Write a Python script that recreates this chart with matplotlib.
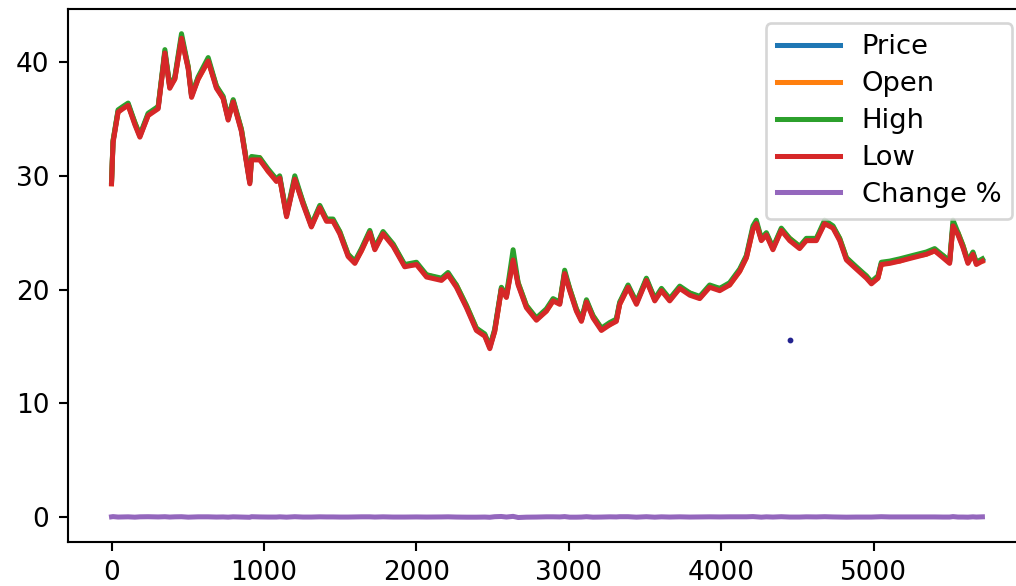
import matplotlib
matplotlib.use("Agg")
import matplotlib.pyplot as plt

# row index of each sampled point
idx = [0, 10, 43, 75, 109, 153, 186, 240, 306, 350,
       382, 415, 459, 503, 525, 568, 634, 688, 732, 765,
       798, 852, 907, 918, 972, 1027, 1082, 1103, 1148, 1202,
       1256, 1311, 1366, 1410, 1453, 1497, 1552, 1596, 1639, 1694,
       1727, 1781, 1847, 1923, 2000, 2066, 2164, 2207, 2262, 2328,
       2393, 2448, 2481, 2513, 2557, 2590, 2634, 2667, 2721, 2787,
       2852, 2896, 2940, 2972, 3005, 3049, 3082, 3115, 3158, 3213,
       3268, 3311, 3333, 3388, 3443, 3508, 3563, 3607, 3661, 3727,
       3793, 3858, 3923, 3989, 4054, 4120, 4164, 4207, 4229, 4262,
       4295, 4338, 4393, 4448, 4513, 4557, 4623, 4677, 4732, 4776,
       4820, 4885, 4951, 4984, 5027, 5049, 5104, 5170, 5256, 5344,
       5399, 5453, 5497, 5519, 5552, 5584, 5617, 5650, 5672, 5712]

price = [29.4, 33.0, 35.7, 36.0, 36.3, 34.6, 33.5, 35.4, 36.0, 40.9,
         37.8, 38.6, 42.2, 39.5, 37.0, 38.6, 40.2, 37.8, 36.9, 35.0,
         36.6, 34.0, 29.4, 31.5, 31.5, 30.5, 29.6, 29.9, 26.5, 29.8,
         27.6, 25.6, 27.3, 26.1, 26.1, 25.0, 23.0, 22.4, 23.5, 25.1,
         23.6, 25.0, 23.9, 22.1, 22.3, 21.2, 20.9, 21.4, 20.3, 18.5,
         16.5, 16.0, 14.9, 16.4, 20.1, 19.4, 22.8, 20.5, 18.5, 17.4,
         18.2, 19.1, 18.8, 21.5, 20.0, 18.2, 17.3, 19.0, 17.6, 16.5,
         17.0, 17.3, 18.8, 20.3, 18.8, 20.9, 19.1, 20.0, 19.1, 20.2,
         19.6, 19.3, 20.3, 20.0, 20.5, 21.7, 22.9, 25.4, 25.9, 24.4,
         24.9, 23.6, 25.3, 24.4, 23.7, 24.4, 24.4, 25.9, 25.5, 24.4,
         22.7, 21.9, 21.1, 20.6, 21.1, 22.3, 22.4, 22.6, 22.9, 23.2,
         23.5, 22.9, 22.4, 25.7, 24.9, 23.8, 22.4, 23.2, 22.3, 22.6]

open_ = [29.3, 33.1, 35.6, 36.0, 36.2, 34.7, 33.5, 35.3, 36.1, 40.8,
         37.9, 38.5, 42.1, 39.6, 37.1, 38.5, 40.1, 37.9, 36.8, 35.1,
         36.5, 34.1, 29.5, 31.4, 31.6, 30.4, 29.7, 29.8, 26.6, 29.7,
         27.7, 25.6, 27.2, 26.2, 26.0, 25.1, 23.1, 22.4, 23.4, 25.0,
         23.7, 24.9, 24.0, 22.1, 22.2, 21.3, 20.9, 21.3, 20.4, 18.6,
         16.6, 16.0, 15.0, 16.3, 20.0, 19.5, 22.6, 20.6, 18.6, 17.4,
         18.1, 19.0, 18.9, 21.4, 20.1, 18.3, 17.3, 18.9, 17.7, 16.6,
         16.9, 17.3, 18.7, 20.2, 18.9, 20.8, 19.2, 19.9, 19.2, 20.1,
         19.7, 19.3, 20.2, 20.1, 20.4, 21.6, 22.8, 25.3, 25.8, 24.5,
         24.8, 23.7, 25.2, 24.5, 23.8, 24.3, 24.5, 25.8, 25.5, 24.5,
         22.8, 21.9, 21.2, 20.6, 21.0, 22.2, 22.4, 22.5, 22.9, 23.1,
         23.4, 23.0, 22.5, 25.5, 25.0, 23.9, 22.5, 23.1, 22.4, 22.5]

high = [29.5, 33.1, 35.8, 36.1, 36.4, 34.7, 33.6, 35.5, 36.1, 41.1,
        37.9, 38.7, 42.5, 39.6, 37.1, 38.7, 40.4, 37.9, 37.0, 35.1,
        36.7, 34.1, 29.5, 31.7, 31.6, 30.6, 29.7, 30.0, 26.6, 30.0,
        27.7, 25.7, 27.4, 26.2, 26.2, 25.1, 23.1, 22.5, 23.6, 25.2,
        23.7, 25.1, 24.0, 22.2, 22.4, 21.3, 21.0, 21.5, 20.4, 18.6,
        16.6, 16.1, 15.0, 16.5, 20.2, 19.5, 23.5, 20.6, 18.6, 17.5,
        18.3, 19.2, 18.9, 21.7, 20.1, 18.3, 17.4, 19.1, 17.7, 16.6,
        17.1, 17.4, 18.9, 20.4, 18.9, 21.0, 19.2, 20.1, 19.2, 20.3,
        19.7, 19.4, 20.4, 20.1, 20.6, 21.8, 23.0, 25.6, 26.1, 24.5,
        25.0, 23.7, 25.4, 24.5, 23.8, 24.5, 24.5, 26.1, 25.6, 24.5,
        22.8, 22.0, 21.2, 20.7, 21.2, 22.4, 22.5, 22.7, 23.0, 23.3,
        23.6, 23.0, 22.5, 26.1, 25.0, 23.9, 22.5, 23.3, 22.4, 22.7]

low = [29.3, 32.9, 35.6, 35.9, 36.2, 34.5, 33.4, 35.3, 35.9, 40.8,
       37.7, 38.5, 42.1, 39.4, 36.9, 38.5, 40.1, 37.7, 36.8, 34.9,
       36.5, 33.9, 29.3, 31.4, 31.4, 30.4, 29.5, 29.8, 26.4, 29.7,
       27.5, 25.5, 27.2, 26.0, 26.0, 24.9, 22.9, 22.3, 23.4, 25.0,
       23.5, 24.9, 23.8, 22.0, 22.2, 21.1, 20.8, 21.3, 20.2, 18.4,
       16.4, 15.9, 14.8, 16.3, 20.0, 19.3, 22.6, 20.4, 18.4, 17.3,
       18.1, 19.0, 18.7, 21.4, 19.9, 18.1, 17.2, 18.9, 17.5, 16.4,
       16.9, 17.2, 18.7, 20.2, 18.7, 20.8, 19.0, 19.9, 19.0, 20.1,
       19.5, 19.2, 20.2, 19.9, 20.4, 21.6, 22.8, 25.3, 25.8, 24.3,
       24.8, 23.5, 25.2, 24.3, 23.6, 24.3, 24.3, 25.8, 25.4, 24.3,
       22.6, 21.8, 21.0, 20.5, 21.0, 22.2, 22.3, 22.5, 22.8, 23.1,
       23.4, 22.8, 22.3, 25.6, 24.8, 23.7, 22.3, 23.1, 22.2, 22.5]

change_pct = [0.01, 0.03, -0.01, 0.00, 0.01, -0.02, 0.01, 0.02, 0.00, 0.02,
              -0.01, 0.01, 0.02, -0.02, -0.01, 0.01, 0.01, -0.01, 0.00, -0.02,
              0.01, -0.01, -0.03, 0.02, 0.00, -0.01, -0.01, 0.01, -0.02, 0.02,
              -0.01, -0.01, 0.01, 0.00, 0.00, -0.01, -0.01, 0.00, 0.01, 0.01,
              -0.01, 0.01, -0.01, -0.01, 0.00, -0.01, 0.00, 0.01, -0.01, -0.02,
              -0.02, -0.01, -0.03, 0.02, 0.04, -0.01, 0.05, -0.05, -0.02, -0.01,
              0.01, 0.01, 0.00, 0.03, -0.02, -0.02, -0.01, 0.02, -0.02, -0.01,
              0.01, 0.00, 0.02, 0.02, -0.02, 0.02, -0.02, 0.01, -0.01, 0.01,
              -0.01, 0.00, 0.01, 0.00, 0.01, 0.01, 0.01, 0.03, 0.01, -0.02,
              0.01, -0.01, 0.02, -0.01, -0.01, 0.01, 0.00, 0.02, 0.00, -0.01,
              -0.02, -0.01, -0.01, -0.01, 0.01, 0.02, 0.00, 0.00, 0.00, 0.00,
              0.00, -0.01, -0.01, 0.03, -0.01, -0.01, -0.02, 0.01, -0.01, 0.01]

series_names = ["Price", "Open", "High", "Low", "Change %"]
stray_point = (4448, 15.6)

fig = plt.figure(figsize=(1016 / 190, 586 / 190), dpi=190)
ax = fig.add_axes([0.0669, 0.0756, 0.9429, 0.9082])

for name, vals in zip(series_names, [price, open_, high, low, change_pct]):
    ax.plot(idx, vals, label=name, linewidth=1.9)

ax.plot([stray_point[0]], [stray_point[1]], marker='o', markersize=1.2,
        color='#23238f', linestyle='none')

ax.legend(loc='upper right', labelspacing=0.4, handlelength=2.3,
          prop={'size': 10.4})
fig.savefig("out.png", dpi=190)
